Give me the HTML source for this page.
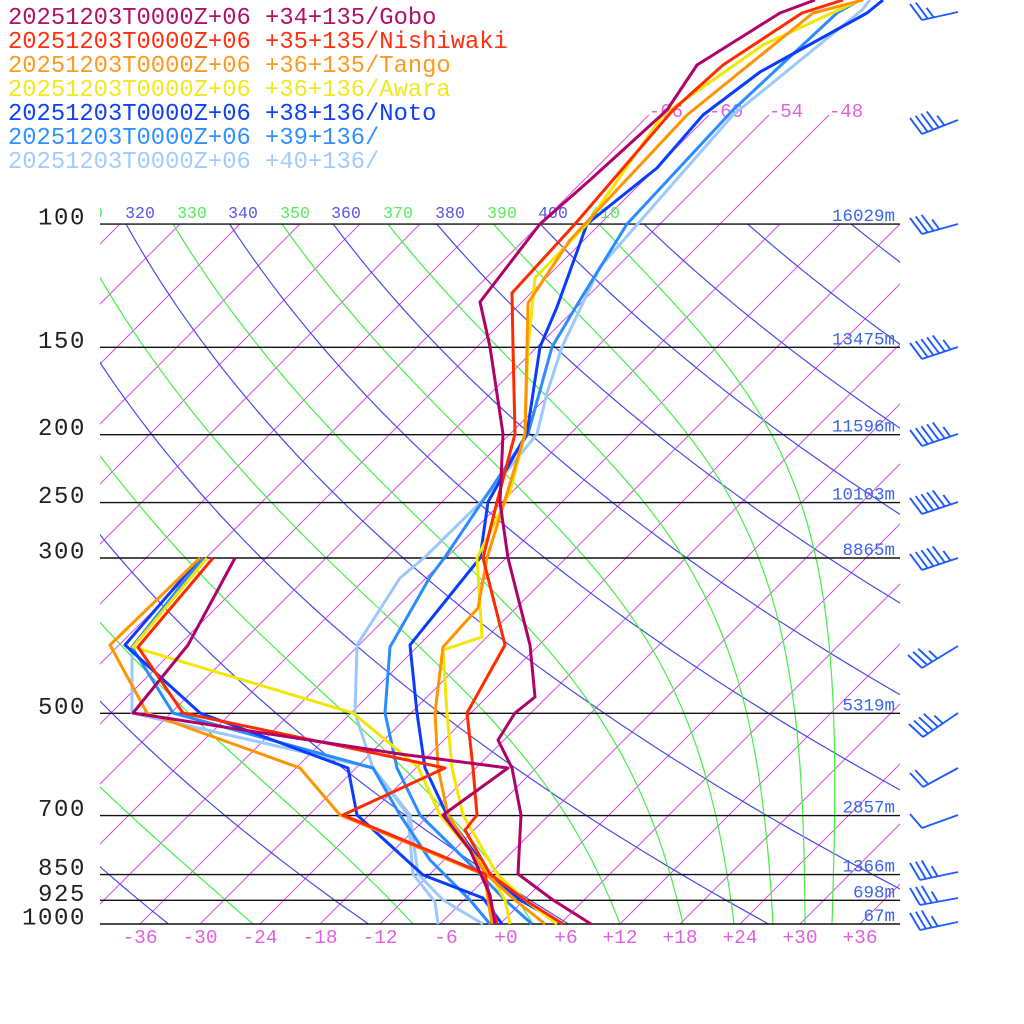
<!DOCTYPE html>
<html><head><meta charset="utf-8"><style>
html,body{margin:0;padding:0;background:#fff;}
svg{display:block;}
text{font-family:"Liberation Mono",monospace;}
</style></head><body>
<svg id="s" xmlns="http://www.w3.org/2000/svg" width="1024" height="1024" viewBox="0 0 1024 1024">
<defs><clipPath id="c"><rect x="100" y="0" width="800" height="924"/></clipPath></defs>
<rect width="1024" height="1024" fill="#fff"/>
<g id="bg" clip-path="url(#c)"></g>
<g id="hl"></g>
<g id="lab"></g>
<g id="prof" fill="none" stroke-width="3" stroke-linejoin="round"></g>
<g id="barbs" stroke="#1f5cff" stroke-width="1.9" fill="none"></g>
<g id="leg" font-size="23.8"></g>
</svg>
<script>
const NS="http://www.w3.org/2000/svg";
function el(par,tag,attrs,txt){const e=document.createElementNS(NS,tag);for(const k in attrs)e.setAttribute(k,attrs[k]);if(txt!==undefined)e.textContent=txt;document.getElementById(par).appendChild(e);return e;}
const Y=p=>924-304*Math.log(1000/p);
const X=(T,p)=>500+10*T+(924-Y(p));
function pts(f){return f.map(q=>q[0].toFixed(1)+","+q[1].toFixed(1)).join(" ");}
for(let T=-150;T<=48;T+=6){
  let y1=Y(100);
  if(T>=-66&&T<=-48){y1=115;}
  const x0=500+10*T, y0=924;
  const x1=x0+(924-y1);
  el("bg","line",{x1:x0,y1:y0,x2:x1,y2:y1,stroke:"#d850e6","stroke-width":1});
}
for(let th=200;th<=700;th+=20){
  const a=[];for(let i=0;i<=60;i++){const p=1000*Math.pow(0.1,i/60);const T=th*Math.pow(p/1000,0.2857)-273.15;a.push([X(T,p),Y(p)]);}
  el("bg","polyline",{points:pts(a),fill:"none",stroke:"#4a4ae8","stroke-width":1.2});
}
function es(Tc){return 6.112*Math.exp(17.67*Tc/(Tc+243.5));}
[-24.7,-8.7,3.3,12,18.3,23.4,27.3,30.5,33.2].forEach(T0=>{
  let T=T0+273.15, lp=Math.log(1000); const lend=Math.log(100); const N=400; const h=(lend-lp)/N;
  const a=[[X(T0,1000),924]];
  for(let i=0;i<N;i++){
    const p=Math.exp(lp);const Tc=T-273.15;const e=es(Tc);const rs=0.622*e/(p-e);
    const d=(287*T+2.5e6*rs)/(1004+2.5e6*2.5e6*rs*0.622/(287*T*T));
    T+=d*h; lp+=h;
    if(i%5==4){const pp=Math.exp(lp);a.push([X(T-273.15,pp),Y(pp)]);}
  }
  el("bg","polyline",{points:pts(a),fill:"none",stroke:"#44ee44","stroke-width":1.2});
});
const thl=[[310,88,"#55ee55"],[320,140,"#5555ee"],[330,192,"#55ee55"],[340,243,"#5555ee"],[350,295,"#55ee55"],[360,346,"#5555ee"],[370,398,"#55ee55"],[380,450,"#5555ee"],[390,502,"#55ee55"],[400,553,"#5555ee"],[410,605,"#55ee55"]];
thl.forEach(t=>el("bg","text",{x:t[1],y:218,"font-size":16.5,fill:t[2],"text-anchor":"middle"},String(t[0])));
[[-66,666],[-60,726],[-54,786],[-48,846]].forEach(t=>el("lab","text",{x:t[1],y:117,"font-size":19,fill:"#e060e0","text-anchor":"middle"},String(t[0])));
const lev=[[1000,"1000","67m"],[925,"925","698m"],[850,"850","1366m"],[700,"700","2857m"],[500,"500","5319m"],[300,"300","8865m"],[250,"250","10103m"],[200,"200","11596m"],[150,"150","13475m"],[100,"100","16029m"]];
lev.forEach(l=>{const y=Y(l[0]);
 el("hl","line",{x1:100,y1:y,x2:900,y2:y,stroke:"#111","stroke-width":1.4});
 el("lab","text",{x:86,y:y+0.5,"font-size":24,fill:"#222","text-anchor":"end","letter-spacing":"1.6"},l[1]);
 el("lab","text",{x:895,y:y-3,"font-size":17.5,fill:"#3a66ee","text-anchor":"end"},l[2]);
});
[[-36,140],[-30,200],[-24,260],[-18,320],[-12,380],[-6,446],[0,506],[6,566],[12,620],[18,680],[24,740],[30,800],[36,860]].forEach(t=>{
 const s=t[0]>0?"+"+t[0]:(t[0]==0?"+0":String(t[0]));
 el("lab","text",{x:t[1],y:943,"font-size":19.5,fill:"#e060e0","text-anchor":"middle"},s);
});
const P=[
["#b0006a",
[[591,924],[553,900],[518,874],[521,815],[512,768],[498,740],[515,713],[535,697],[530,645],[508,558],[500,502],[503,434],[490,347],[480,302],[540,224],[590,180],[667,110],[697,65],[780,13],[815,0]],
[[495,924],[490,895],[470,850],[443,815],[508,768],[400,754],[133,713],[188,645],[235,558]]],
["#ff2a00",
[[563,924],[525,900],[490,874],[465,830],[477,815],[473,768],[467,713],[505,645],[483,558],[497,502],[515,434],[513,347],[512,293],[575,224],[673,110],[723,65],[802,13],[843,0]],
[[497,924],[490,900],[485,874],[343,815],[445,768],[183,713],[138,647],[213,558]]],
["#ff9400",
[[545,924],[515,900],[486,874],[448,815],[438,768],[435,713],[443,647],[478,608],[487,558],[505,500],[525,434],[527,347],[528,303],[570,240],[687,115],[813,13],[863,0]],
[[492,924],[488,900],[485,875],[340,815],[300,768],[147,713],[110,645],[200,558]]],
["#f5e600",
[[557,924],[525,900],[497,874],[463,815],[452,768],[447,713],[443,650],[482,637],[477,558],[510,492],[525,433],[528,347],[535,278],[587,224],[663,115],[763,45],[860,0]],
[[510,924],[505,900],[490,874],[440,815],[418,767],[353,713],[133,647],[207,558]]],
["#0a3cff",
[[563,924],[520,900],[490,874],[447,815],[425,768],[417,713],[410,645],[480,558],[488,502],[527,433],[540,347],[557,307],[587,224],[657,168],[703,115],[760,72],[867,13],[883,0]],
[[502,924],[483,898],[423,875],[357,815],[348,768],[200,713],[125,645],[200,558]]],
["#2a8cff",
[[532,924],[505,900],[480,874],[420,815],[397,768],[385,713],[390,647],[430,577],[445,557],[480,505],[528,434],[552,347],[580,300],[627,224],[733,110],[837,13],[860,0]],
[[490,924],[470,900],[430,860],[400,815],[373,768],[173,713],[132,647],[203,558]]],
["#9cc8ff",
[[483,924],[443,900],[418,874],[410,815],[373,768],[355,713],[357,645],[400,578],[425,557],[483,500],[537,434],[547,393],[562,347],[600,267],[733,115],[862,10],[870,0]],
[[438,924],[435,902],[413,874],[408,815],[373,768],[132,713],[132,647],[203,558]]]
];
for(let i=P.length-1;i>=0;i--){const s=P[i];
 el("prof","polyline",{points:pts(s[2]),stroke:s[0]});
 el("prof","polyline",{points:pts(s[1]),stroke:s[0]});
}
const L=[["#b0106a","20251203T0000Z+06 +34+135/Gobo"],["#ff3010","20251203T0000Z+06 +35+135/Nishiwaki"],["#ff9a20","20251203T0000Z+06 +36+135/Tango"],["#f0e820","20251203T0000Z+06 +36+136/Awara"],["#1040ff","20251203T0000Z+06 +38+136/Noto"],["#3090ff","20251203T0000Z+06 +39+136/"],["#a0ccff","20251203T0000Z+06 +40+136/"]];
L.forEach((l,i)=>el("leg","text",{x:8,y:24+24*i,fill:l[0]},l[1]));
const B=[[12,-36,8,-12,-16,3],[120,-36,14,-12,-16,5],[224,-36,10,-12,-16,4],[347,-36,12,-12,-16,6],[434,-36,12,-12,-16,6],[502,-36,12,-12,-16,6],[558,-36,12,-12,-16,6],[646,-36,22,-14,-13,4],[713,-35,24,-14,-13,5],[768,-35,19,-13,-14,2],[815,-36,13,-12,-14,1],[872,-38,8,-10,-17,4],[898,-38,7,-10,-17,4],[922,-38,8,-10,-17,4]];
B.forEach(b=>{const tx=958,ty=b[0],bx=tx+b[1],by=ty+b[2];
 el("barbs","line",{x1:tx,y1:ty,x2:bx,y2:by});
 const L2=Math.hypot(b[1],b[2]);const ux=-b[1]/L2,uy=-b[2]/L2;
 for(let k=0;k<b[5];k++){const px=bx+ux*6*k,py=by+uy*6*k;const sc=(k==b[5]-1&&b[5]>2)?0.6:1;
  el("barbs","line",{x1:px,y1:py,x2:px+b[3]*sc,y2:py+b[4]*sc});}
});
</script>
</body></html>
